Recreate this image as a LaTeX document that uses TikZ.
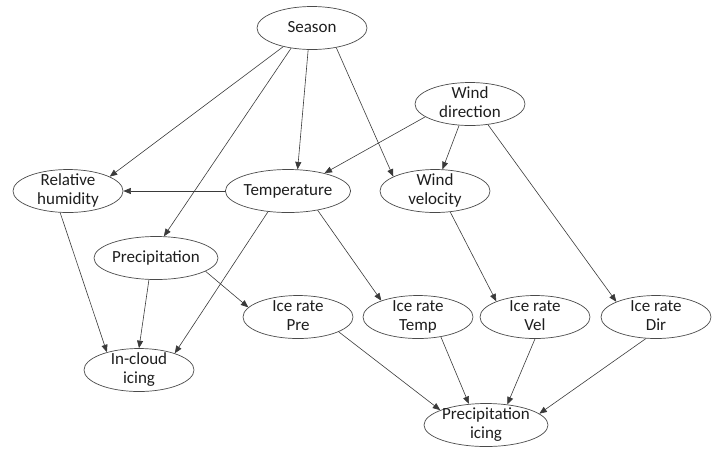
\documentclass[tikz,border=0pt]{standalone}
\usepackage{fontspec}
\setmainfont{Carlito}
\usetikzlibrary{shapes.geometric,arrows.meta}
\definecolor{edgecol}{HTML}{3A3A3A}
\definecolor{bordercol}{HTML}{4A4A4A}
\definecolor{txtcol}{HTML}{1E1E1E}
\newcommand\lbl[1]{\raisebox{-0.27em}[0pt][0pt]{\begin{tabular}{@{}c@{}}#1\end{tabular}}}
\begin{document}
\begin{tikzpicture}[x=1pt,y=-1pt,
  var/.style={ellipse,draw=bordercol,line width=0.7pt,minimum width=110pt,minimum height=43pt,inner sep=0pt,
    text=txtcol,font=\fontsize{17}{19.5}\selectfont},
  conn/.style={draw=edgecol,line width=0.6pt,-{Triangle[length=7.5pt,width=6pt]}}]
\useasboundingbox (0,0) rectangle (722,448);
\node[var] (season) at (312,28) {\lbl{Season}};
\node[var] (wdir) at (470,104) {\lbl{Wind\\direction}};
\node[var] (rh) at (68,191) {\lbl{Relative\\humidity}};
\node[var] (temp) at (288,191) {\lbl{Temperature}};
\node[var] (wvel) at (435,191) {\lbl{Wind\\velocity}};
\node[var] (precip) at (156,258) {\lbl{Precipitation}};
\node[var] (irpre) at (298,317) {\lbl{Ice rate\\Pre}};
\node[var] (irtemp) at (418,317) {\lbl{Ice rate\\Temp}};
\node[var] (irvel) at (535,317) {\lbl{Ice rate\\Vel}};
\node[var] (irdir) at (656,317) {\lbl{Ice rate\\Dir}};
\node[var] (incloud) at (139,370) {\lbl{In-cloud\\icing}};
\node[var] (picing) at (486,425) {\lbl{Precipitation\\icing}};

\draw[conn] (season.213) -- (rh.19);
\draw[conn] (season.224) -- (precip.70);
\draw[conn] (season.260) -- (temp.66);
\draw[conn] (season.321) -- (wvel.161);
\draw[conn] (wdir.196) -- (temp.26);
\draw[conn] (wdir.243) -- (wvel.71);
\draw[conn] (wdir.311) -- (irdir.159);
\draw[conn] (temp.180) -- (rh.0);
\draw[conn] (temp.226) -- (incloud.25);
\draw[conn] (temp.327) -- (irtemp.156);
\draw[conn] (rh.250) -- (incloud.151);
\draw[conn] (precip.252) -- (incloud.90);
\draw[conn] (precip.345) -- (irpre.169);
\draw[conn] (wvel.306) -- (irvel.158);
\draw[conn] (irpre.340) -- (picing.162);
\draw[conn] (irtemp.319) -- (picing.129);
\draw[conn] (irvel.270) -- (picing.44);
\draw[conn] (irdir.245) -- (picing.12);
\end{tikzpicture}
\end{document}
